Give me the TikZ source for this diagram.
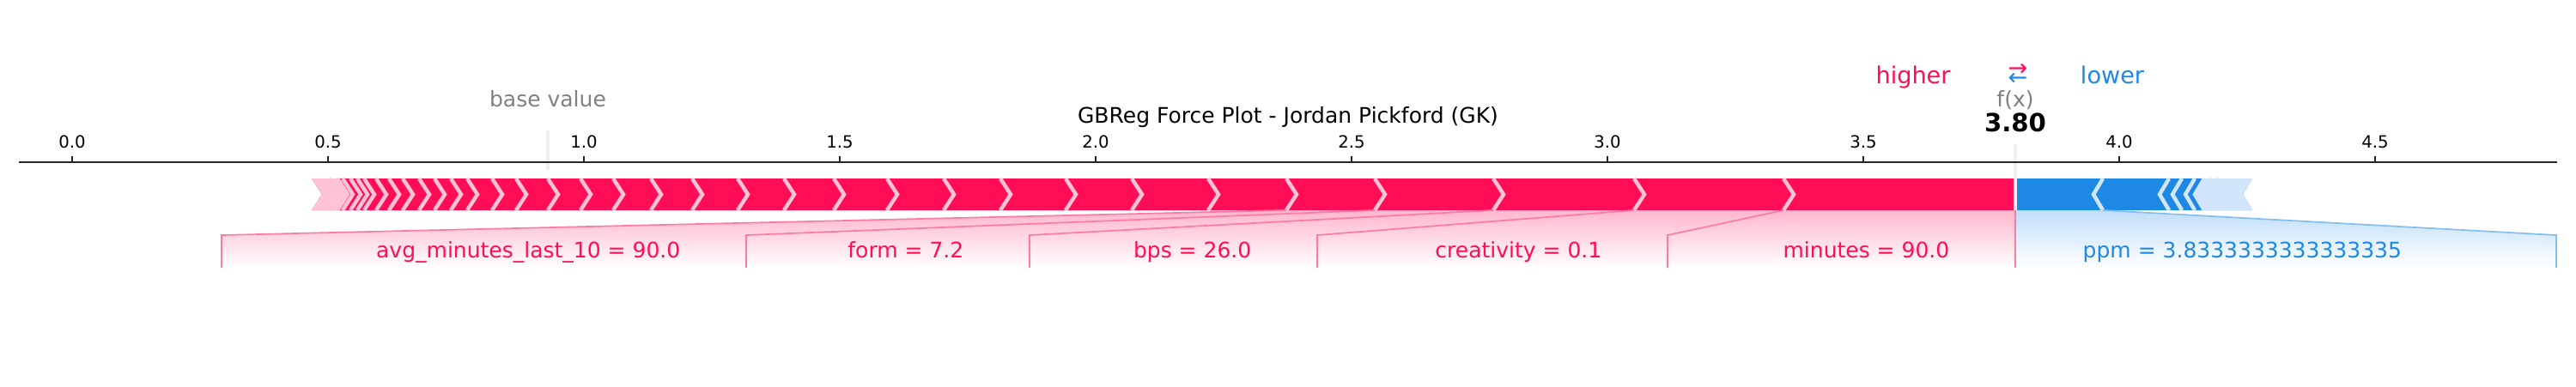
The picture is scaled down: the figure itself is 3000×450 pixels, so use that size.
\documentclass[tikz,border=0pt]{standalone}
\usepackage{fontspec}
\setmainfont{DejaVu Sans}
\usepackage{tikz}
\usetikzlibrary{positioning}
\definecolor{shapred}{HTML}{FF0D57}
\definecolor{shapblue}{HTML}{1E88E5}
\definecolor{palered}{HTML}{FFC3D5}
\definecolor{paleblue}{HTML}{D1E6FA}
\definecolor{valgrey}{HTML}{808080}
\definecolor{markgrey}{HTML}{F0F0F0}
\newcommand{\mplsize}[1]{\fontsize{#1}{#1}\selectfont}
\newcommand{\arrowpair}{\fontsize{7.71}{3.13}\selectfont\setlength{\lineskiplimit}{-10pt}\relax}

\begin{document}
\begin{tikzpicture}[x=0.01cm, y=-0.01cm,
    ticklabel/.style={font=\mplsize{5.6}, anchor=base, inner sep=0pt},
    toplabel/.style={font=\mplsize{7.11}, anchor=base, inner sep=0pt},
    featlabel/.style={font=\mplsize{7.11}, inner sep=0pt},
    redchev/.style={draw=palered, line width=0.045cm},
    bluechev/.style={draw=paleblue, line width=0.045cm},
    redlink/.style={draw=shapred!55!white, line width=0.017cm},
    bluelink/.style={draw=shapblue!55!white, line width=0.017cm}]
    \useasboundingbox (0,0) rectangle (3000,450);

    % Bar, pushing up
    \fill[shapred] (363,208) -- (2347,208) -- (2347,245) -- (363,245) -- (375,226.5) -- cycle;
    \fill[palered] (363,208) -- (392,208) -- (404,226.5) -- (392,245) -- (363,245) -- (375,226.5) -- cycle;
    \foreach \b in {383,393,399,408,416,424,438,453,469,488,506,525,544,573,601,638,676,714,
                    758,806,859,913,971,1033,1099,1165,1241,1318,1407,1498,1601,1739,1903,2077}
        \draw[redchev] (\b,208) -- (\b+12,226.5) -- (\b,245);

    % Bar, pushing down
    \fill[shapblue] (2347,208) -- (2623,208) -- (2612,226.5) -- (2623,245) -- (2347,245) -- cycle;
    \fill[paleblue] (2568,208) -- (2623,208) -- (2612,226.5) -- (2623,245) -- (2568,245) -- (2557,226.5) -- cycle;
    \foreach \b in {2449,2526,2541,2556,2567,2576,2584}
        \draw[bluechev] (\b,208) -- (\b-11,226.5) -- (\b,245);

    % Markers
    \draw[markgrey, line width=0.035cm] (638,152) -- (638,198);
    \draw[markgrey, line width=0.035cm] (2347,168) -- (2347,246);

    % Axis
    \draw[black!85, line width=0.02cm] (22,189) -- (2978,189);
    \foreach \v [count=\i] in {0.0,0.5,1.0,1.5,2.0,2.5,3.0,3.5,4.0,4.5} {
        \draw[black!85, line width=0.02cm] (84+596*\v,189) -- (84+596*\v,182);
        \node[ticklabel] (tick\i) at (84+596*\v,172) {\v};
    }

    % Texts above
    \node[toplabel] (title) at (1500,143) {GBReg Force Plot - Jordan Pickford (GK)};
    \node[toplabel, text=valgrey] (basevalue) at (638,124) {base value};
    \node[toplabel, text=valgrey] (fx) at (2347,124) {f(x)};
    \node[toplabel, font=\mplsize{8.3}\bfseries] (fxvalue) at (2347,153) {3.80};
    \node[toplabel, font=\mplsize{7.71}, text=shapred] (higher) at (2228,97) {higher};
    \node[toplabel, font=\mplsize{7.71}, text=shapblue] (lower) at (2460,97) {lower};
    \node[font=\arrowpair, align=center, inner sep=0pt]
        (arrows) at (2350,86.5) {\textcolor{shapred}{→}\\\textcolor{shapblue}{←}};

    % Feature labels
    \foreach \xa/\xb/\xr/\xl in {1498/1601/869/258, 1601/1739/1199/869, 1739/1903/1534/1199,
                                 1903/2077/1942/1534, 2077/2347/2347/1942}
        \shade[top color=shapred!30!white, bottom color=white]
            (\xa,245) -- (\xb,245) -- (\xr,274) -- (\xr,312) -- (\xl,312) -- (\xl,274) -- cycle;
    \shade[top color=shapblue!28!white, bottom color=white]
        (2347,245) -- (2449,245) -- (2977,274) -- (2977,312) -- (2347,312) -- cycle;
    \foreach \xa/\xl in {1498/258, 1601/869, 1739/1199, 1903/1534, 2077/1942}
        \draw[redlink] (\xa,245) -- (\xl,274) -- (\xl,312);
    \draw[redlink] (2347,245) -- (2347,312);
    \draw[bluelink] (2449,245) -- (2977,274) -- (2977,312);

    \foreach \xr/\name/\txt in {869/avg/{avg\_minutes\_last\_10 = 90.0}, 1199/form/{form = 7.2},
                                1534/bps/{bps = 26.0}, 1942/creat/{creativity = 0.1},
                                2347/min/{minutes = 90.0}}
        \node[featlabel, text=shapred, anchor=base east] (lbl-\name) at (\xr-76,300) {\txt};
    \node[featlabel, text=shapblue, anchor=base west] (lbl-ppm) at (2425,300) {ppm = 3.8333333333333335};
\end{tikzpicture}
\end{document}
